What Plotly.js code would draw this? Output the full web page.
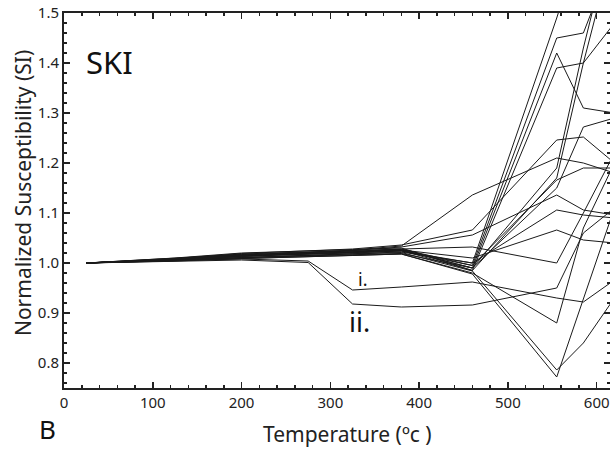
<!DOCTYPE html>
<html>
<head>
<meta charset="utf-8">
<script src="https://cdn.plot.ly/plotly-3.0.1.min.js"></script>
<style>html,body{margin:0;padding:0;background:#fff;}#chart{width:610px;height:450px;}</style>
</head>
<body>
<div id="chart"></div>
<script>
// Temperature steps (°C)
var temperatures = [25, 125, 200, 275, 325, 380, 460, 555, 585, 620];

// Normalized susceptibility curves, one per specimen
var s01 = [1, 1.006, 1.012, 1.016, 1.018, 1.022, 1.000, 1.49, 1.66, 1.85];
var s02 = [1, 1.008, 1.018, 1.022, 1.024, 1.028, 0.995, 1.45, 1.46, 1.62];
var s03 = [1, 1.005, 1.011, 1.014, 1.016, 1.019, 0.990, 1.42, 1.31, 1.30];
var s04 = [1, 1.007, 1.015, 1.019, 1.021, 1.025, 0.985, 1.39, 1.40, 1.48];
var s05 = [1, 1.010, 1.020, 1.025, 1.027, 1.030, 0.985, 1.17, 1.40, 1.64];
var s06 = [1, 1.009, 1.017, 1.021, 1.024, 1.027, 0.990, 1.19, 1.43, 1.68];
var s07 = [1, 1.006, 1.013, 1.020, 1.026, 1.034, 1.136, 1.21, 1.20, 1.18];
var s08 = [1, 1.009, 1.019, 1.024, 1.028, 1.036, 1.066, 1.246, 1.252, 1.20];
var s09 = [1, 1.008, 1.016, 1.021, 1.025, 1.032, 1.056, 1.136, 1.106, 1.096];
var s10 = [1, 1.007, 1.014, 1.018, 1.022, 1.028, 1.032, 1.00, 1.10, 1.22];
var s11 = [1, 1.005, 1.010, 1.013, 1.015, 1.018, 0.980, 0.88, 1.07, 1.20];
var s12 = [1, 1.006, 1.012, 1.015, 1.018, 1.021, 0.984, 0.786, 0.84, 0.93];
var s13 = [1, 1.004, 1.009, 1.012, 1.015, 1.018, 0.978, 0.772, 0.93, 1.11];
var s14 = [1, 1.004, 1.008, 1.004, 0.946, 0.952, 0.962, 0.93, 0.922, 0.966];
var s15 = [1, 1.003, 1.006, 1.001, 0.918, 0.912, 0.916, 0.95, 1.06, 1.11];
var s16 = [1, 1.007, 1.014, 1.017, 1.020, 1.024, 1.000, 1.106, 1.096, 1.09];
var s17 = [1, 1.008, 1.016, 1.019, 1.022, 1.026, 1.010, 1.066, 1.046, 1.04];
var s18 = [1, 1.006, 1.013, 1.017, 1.020, 1.024, 0.995, 1.166, 1.19, 1.19];
var s19 = [1, 1.007, 1.015, 1.019, 1.022, 1.026, 0.990, 1.15, 1.272, 1.29];

var seriesList = [s01, s02, s03, s04, s05, s06, s07, s08, s09, s10,
                  s11, s12, s13, s14, s15, s16, s17, s18, s19];

var xTickVals = [0, 100, 200, 300, 400, 500, 600];
var yTickVals = [0.8, 0.9, 1.0, 1.1, 1.2, 1.3, 1.4, 1.5];

var traces = seriesList.map(function (s) {
  return {
    x: temperatures, y: s, type: 'scatter', mode: 'lines',
    line: {color: '#1a1a1a', width: 1}, hoverinfo: 'skip', showlegend: false
  };
});

var FONT = '"Noto Sans", "Open Sans", sans-serif';

var layout = {
  width: 610, height: 450,
  margin: {l: 64, r: 0, t: 13, b: 62},
  paper_bgcolor: '#ffffff', plot_bgcolor: '#ffffff',
  font: {family: FONT, color: '#222222', size: 15},
  showlegend: false,
  xaxis: {
    range: [0, 615], tickvals: xTickVals, ticks: 'inside', ticklen: 6, tickwidth: 1.5,
    tickcolor: '#222', showline: true, linecolor: '#222', linewidth: 2, mirror: 'ticks',
    showgrid: false, zeroline: false, tickfont: {size: 15, family: FONT, color: '#222'},
    minor: {dtick: 20, tick0: 0, ticks: 'inside', ticklen: 3, tickwidth: 1.5, tickcolor: '#222', showgrid: false}
  },
  yaxis: {
    range: [0.75, 1.5], tickvals: yTickVals, tickformat: '.1f', ticks: 'inside', ticklen: 6, tickwidth: 1.5,
    tickcolor: '#222', showline: true, linecolor: '#222', linewidth: 2, mirror: 'ticks',
    showgrid: false, zeroline: false, tickfont: {size: 15, family: FONT, color: '#222'},
    minor: {dtick: 0.02, tick0: 0.76, ticks: 'inside', ticklen: 3, tickwidth: 1.5, tickcolor: '#222', showgrid: false}
  },
  annotations: [
    {text: 'SKI', xref: 'paper', yref: 'paper', x: 0.036, y: 0.87, xanchor: 'left', yanchor: 'middle',
     showarrow: false, font: {size: 31, family: FONT, color: '#111'}},
    {text: 'i.', xref: 'x', yref: 'y', x: 336, y: 0.968, xanchor: 'center', yanchor: 'middle',
     showarrow: false, font: {size: 18, family: FONT, color: '#111'}},
    {text: 'ii.', xref: 'x', yref: 'y', x: 333, y: 0.884, xanchor: 'center', yanchor: 'middle',
     showarrow: false, font: {size: 27, family: FONT, color: '#111'}},
    {text: 'Temperature (ºc )', xref: 'paper', yref: 'paper', x: 0.52, y: -0.122,
     xanchor: 'center', yanchor: 'middle', showarrow: false, font: {size: 21, family: FONT, color: '#222'}},
    {text: 'Normalized Susceptibility (SI)', xref: 'paper', yref: 'paper', x: -0.075, y: 0.52,
     xanchor: 'center', yanchor: 'middle', textangle: -90, showarrow: false,
     font: {size: 21, family: FONT, color: '#222'}},
    {text: 'B', xref: 'paper', yref: 'paper', x: -0.031, y: -0.162, xanchor: 'center', yanchor: 'bottom',
     showarrow: false, font: {size: 26, family: FONT, color: '#111'}}
  ]
};

Plotly.newPlot('chart', traces, layout, {staticPlot: true, displayModeBar: false});
</script>
</body>
</html>
